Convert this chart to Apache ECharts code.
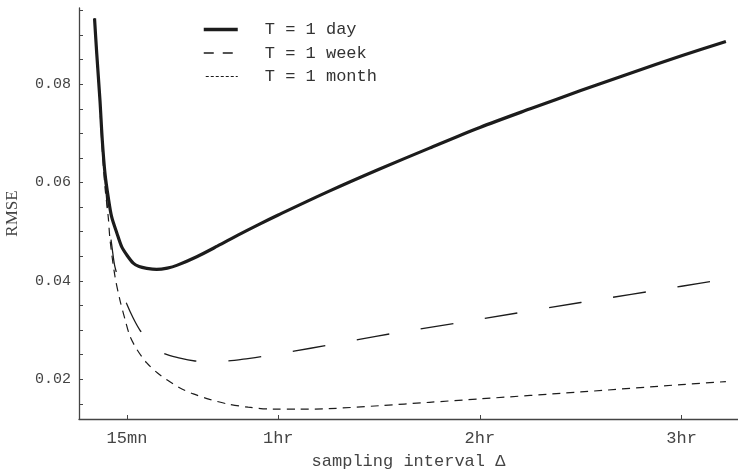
<!DOCTYPE html>
<html>
<head>
<meta charset="utf-8">
<script src="https://cdn.jsdelivr.net/npm/echarts@6/dist/echarts.min.js"></script>
<style>html,body{margin:0;padding:0;background:#fff}#c{width:738px;height:470px}</style>
</head>
<body>
<div id="c"></div>
<script>
// sampling interval in hours
var dayHours = [0.089,0.100,0.116,0.1275,0.141,0.157,0.174,0.20,0.224,0.25,0.281,0.31,0.348,0.397,0.45,0.50,0.596,0.70,0.80,0.90,1.0,1.25,1.5,1.75,2.0,2.25,2.5,2.75,3.0,3.22];
var dayRmse  = [0.0934,0.0862,0.0767,0.0686,0.0618,0.0570,0.0530,0.0497,0.0469,0.0452,0.0436,0.0429,0.04254,0.04233,0.0426,0.0432,0.0449,0.0471,0.0493,0.0514,0.0534,0.0582,0.0627,0.0670,0.0712,0.0750,0.0787,0.0823,0.0858,0.0887];

var weekHours = [0.089,0.100,0.116,0.1275,0.141,0.16,0.182,0.19,0.22,0.248,0.28,0.314,0.37,0.43,0.513,0.587,0.65,0.752,0.85,0.918,1.078,1.243,1.402,1.567,2.0,2.5,3.0,3.22];
var weekRmse  = [0.0934,0.0862,0.0767,0.0680,0.0605,0.0520,0.0449,0.0429,0.0385,0.0354,0.0325,0.0300,0.0272,0.0253,0.0243,0.0237,0.02355,0.0237,0.0242,0.0246,0.0257,0.0269,0.0281,0.0293,0.0322,0.0356,0.0389,0.0404];

var monthHours = [0.089,0.100,0.116,0.1275,0.141,0.157,0.166,0.19,0.215,0.24,0.265,0.30,0.348,0.40,0.447,0.513,0.579,0.66,0.744,0.851,0.975,1.1,1.25,1.5,1.75,2.0,2.5,3.0,3.22];
var monthRmse  = [0.0934,0.0855,0.0750,0.0665,0.0590,0.0530,0.0483,0.0410,0.0361,0.0322,0.0287,0.0260,0.0233,0.0213,0.0199,0.0182,0.0170,0.0159,0.0150,0.0143,0.0139,0.0139,0.0140,0.0146,0.0153,0.0160,0.0174,0.0189,0.0195];

var xTickValues = [0.25, 1, 2, 3];
var xTickLabels = ['15mn', '1hr', '2hr', '3hr'];
var yLabelValues = [0.02, 0.04, 0.06, 0.08];
var yTickValues = [0.015,0.02,0.025,0.03,0.035,0.04,0.045,0.05,0.055,0.06,0.065,0.07,0.075,0.08,0.085,0.09,0.095];
var seriesNames = ['T = 1 day', 'T = 1 week', 'T = 1 month'];

function pairs(xs, ys) { return xs.map(function (x, i) { return [x, ys[i]]; }); }

var mono = 'Liberation Mono';
var ink = '#1c1c1c';
var chart = echarts.init(document.getElementById('c'), null, {renderer: 'canvas'});
chart.setOption({
  animation: false,
  backgroundColor: '#fff',
  grid: {left: 79, right: 0, top: 8, bottom: 51, outerBoundsMode: 'none', containLabel: false},
  legend: {
    orient: 'vertical', left: 197, top: 16,
    itemWidth: 34, itemHeight: 14, itemGap: 6.5,
    itemStyle: {opacity: 0},
    textStyle: {fontFamily: mono, fontSize: 17, color: '#333', padding: [0, 0, 0, 22]},
    data: [
      {name: seriesNames[0], lineStyle: {width: 3.5, type: 'solid'}, itemStyle: {opacity: 0}},
      {name: seriesNames[1], lineStyle: {width: 1.3, type: [10, 9]}, itemStyle: {opacity: 0}},
      {name: seriesNames[2], lineStyle: {width: 1, type: [3, 2]}, itemStyle: {opacity: 0}}
    ]
  },
  xAxis: {
    type: 'value', min: 0.012, max: 3.28,
    name: 'sampling interval \u0394', nameLocation: 'middle', nameGap: 34,
    nameTextStyle: {fontFamily: mono, fontSize: 17, color: '#444'},
    axisLine: {lineStyle: {color: '#444', width: 1.3}},
    axisTick: {inside: true, length: 4, customValues: xTickValues, lineStyle: {color: '#444'}},
    axisLabel: {
      customValues: xTickValues, margin: 11, fontFamily: mono, fontSize: 17, color: '#444',
      formatter: function (v) { var i = xTickValues.indexOf(v); return i >= 0 ? xTickLabels[i] : ''; }
    },
    splitLine: {show: false}
  },
  yAxis: {
    type: 'value', min: 0.0119, max: 0.0955,
    name: 'RMSE', nameLocation: 'middle', nameGap: 58, nameRotate: 90,
    nameTextStyle: {fontFamily: 'Liberation Serif', fontSize: 17, color: '#444'},
    axisLine: {show: true, lineStyle: {color: '#444', width: 1.3}},
    axisTick: {show: true, inside: true, length: 4, customValues: yTickValues, lineStyle: {color: '#444'}},
    axisLabel: {
      customValues: yLabelValues, margin: 8, fontFamily: mono, fontSize: 15, color: '#444',
      formatter: function (v) { return v.toFixed(2); }
    },
    splitLine: {show: false}
  },
  series: [
    {name: seriesNames[0], type: 'line', symbol: 'none', smooth: 0.3, data: pairs(dayHours, dayRmse),
     lineStyle: {color: ink, width: 3.2}, itemStyle: {color: ink}, z: 3},
    {name: seriesNames[1], type: 'line', symbol: 'none', smooth: 0.3, data: pairs(weekHours, weekRmse),
     lineStyle: {color: ink, width: 1.3, type: [33, 32], dashOffset: 38}, itemStyle: {color: ink}, z: 2},
    {name: seriesNames[2], type: 'line', symbol: 'none', smooth: 0.3, data: pairs(monthHours, monthRmse),
     lineStyle: {color: ink, width: 1.2, type: [8, 6]}, itemStyle: {color: ink}, z: 1}
  ]
});
</script>
</body>
</html>
